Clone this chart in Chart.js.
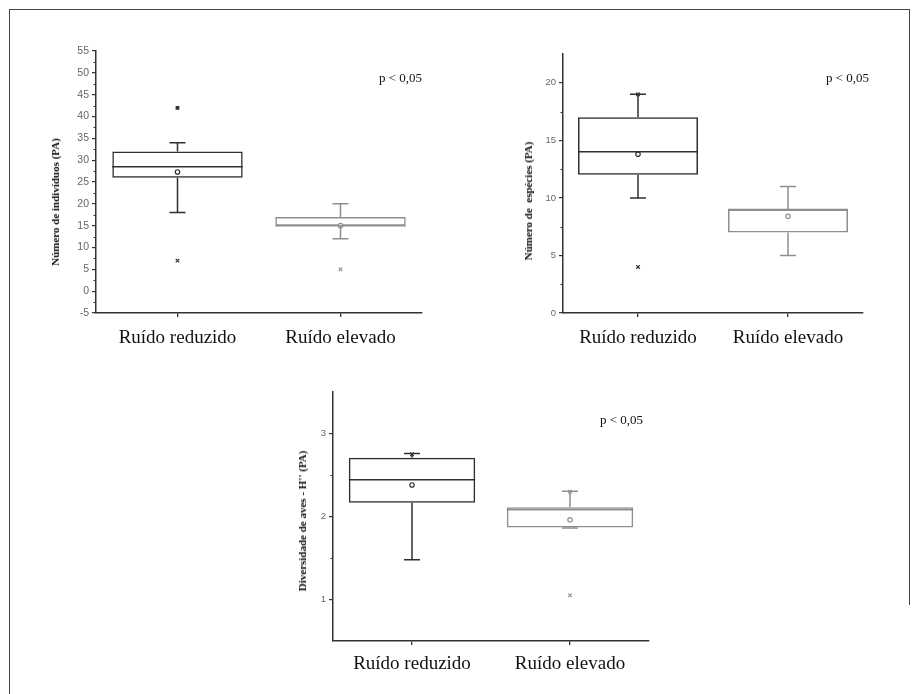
<!DOCTYPE html>
<html>
<head>
<meta charset="utf-8">
<script src="https://cdn.jsdelivr.net/npm/chart.js@4.4.1/dist/chart.umd.min.js"></script>
<style>
  body { margin: 0; background: #fff; }
  #page { position: relative; width: 918px; height: 694px; overflow: hidden; background: #fff; }
  .frame-top { position: absolute; left: 9px; top: 9px; width: 900px; height: 0; border-top: 1px solid #444; }
  .frame-left { position: absolute; left: 9px; top: 9px; width: 0; height: 690px; border-left: 1px solid #444; }
  .frame-right { position: absolute; left: 909px; top: 9px; width: 0; height: 596px; border-left: 1px solid #444; }
  canvas { position: absolute; }
  .ytitle { position: absolute; font-family: "Liberation Serif", serif; font-weight: bold; font-size: 11px; color: #111;
            white-space: nowrap; transform: translate(-50%, -50%) rotate(-90deg); }
  .pval { position: absolute; font-family: "Liberation Serif", serif; font-size: 13px; color: #111; white-space: nowrap; }
</style>
</head>
<body>
<div id="page">
  <div class="frame-top"></div>
  <div class="frame-left"></div>
  <div class="frame-right"></div>

  <canvas id="chart-individuos" width="387" height="322" style="left:45px; top:41px;"></canvas>
  <canvas id="chart-especies" width="355" height="319" style="left:518px; top:44px;"></canvas>
  <canvas id="chart-diversidade" width="367" height="309" style="left:292px; top:382px;"></canvas>

  <div class="ytitle" style="left:55px; top:202px;">Número de indivíduos (PA)</div>
  <div class="ytitle" style="left:528px; top:201px;">Número de&nbsp; espécies (PA)</div>
  <div class="ytitle" style="left:302px; top:521px;">Diversidade de aves - H'' (PA)</div>

  <div class="pval" style="left:379px; top:70px;">p &lt; 0,05</div>
  <div class="pval" style="left:826px; top:70px;">p &lt; 0,05</div>
  <div class="pval" style="left:600px; top:412px;">p &lt; 0,05</div>
</div>

<script>
const categories = ['Ruído reduzido', 'Ruído elevado'];
const boxColors = ['#2f2f2f', '#8f8f8f'];

// Número de indivíduos
const indQ1 = [26, 15];
const indQ3 = [32, 17];
const indMedian = [28.5, 15];
const indMean = [27.3, 15];
const indMin = [18, 12];
const indMax = [34, 20];
const indOutliers = [[42, 7], [5]];
const indTicks = [-5, 0, 5, 10, 15, 20, 25, 30, 35, 40, 45, 50, 55];

// Número de espécies
const espQ1 = [12, 7];
const espQ3 = [17, 9];
const espMedian = [14, 9];
const espMean = [13.8, 8.4];
const espMin = [10, 5];
const espMax = [19, 11];
const espOutliers = [[19, 4], []];
const espTicks = [0, 5, 10, 15, 20];

// Diversidade de aves - H''
const divQ1 = [2.165, 1.867];
const divQ3 = [2.707, 2.112];
const divMedian = [2.442, 2.08];
const divMean = [2.38, 1.96];
const divMin = [1.478, 1.86];
const divMax = [2.76, 2.305];
const divOutliers = [[2.75], [2.3, 1.05]];
const divTicks = [1, 2, 3];

// whiskers, caps, median lines and minor ticks
const boxWhiskers = {
    id: 'boxWhiskers',
    afterDatasetsDraw: function(chart) {
        const s = chart.$box;
        if (!s) return;
        const ctx = chart.ctx;
        const x = chart.scales.x;
        const y = chart.scales.y;
        const bars = chart.getDatasetMeta(2).data;
        ctx.save();
        ctx.lineWidth = 1.5;
        categories.forEach((c, i) => {
            const cx = x.getPixelForValue(i);
            const half = bars[i] ? bars[i].width / 2 : 50;
            const cap = 8;
            ctx.strokeStyle = boxColors[i];
            ctx.beginPath();
            // median
            ctx.moveTo(cx - half, y.getPixelForValue(s.median[i]));
            ctx.lineTo(cx + half, y.getPixelForValue(s.median[i]));
            // upper whisker
            ctx.moveTo(cx, y.getPixelForValue(s.q3[i]));
            ctx.lineTo(cx, y.getPixelForValue(s.max[i]));
            ctx.moveTo(cx - cap, y.getPixelForValue(s.max[i]));
            ctx.lineTo(cx + cap, y.getPixelForValue(s.max[i]));
            // lower whisker
            ctx.moveTo(cx, y.getPixelForValue(s.q1[i]));
            ctx.lineTo(cx, y.getPixelForValue(s.min[i]));
            ctx.moveTo(cx - cap, y.getPixelForValue(s.min[i]));
            ctx.lineTo(cx + cap, y.getPixelForValue(s.min[i]));
            ctx.stroke();
        });
        // minor ticks on y axis
        ctx.strokeStyle = '#333';
        ctx.lineWidth = 1.2;
        ctx.beginPath();
        for (let k = 0; k < y.ticks.length - 1; k++) {
            const mid = (y.ticks[k].value + y.ticks[k + 1].value) / 2;
            const py = Math.round(y.getPixelForValue(mid)) + 0.5;
            ctx.moveTo(chart.chartArea.left - 2.5, py);
            ctx.lineTo(chart.chartArea.left, py);
        }
        ctx.stroke();
        ctx.restore();
    }
};

function makeBoxChart(id, s) {
    const canvas = document.getElementById(id);
    const outlierPoints = [];
    s.outliers.forEach((vals, i) => vals.forEach(v => outlierPoints.push({ x: categories[i], y: v })));

    const chart = new Chart(canvas, {
        type: 'bar',
        data: {
            labels: categories,
            datasets: [
                {
                    type: 'line',
                    label: 'Média',
                    data: s.mean,
                    showLine: false,
                    pointStyle: 'circle',
                    pointRadius: 2.2,
                    pointBorderWidth: 1.2,
                    pointBorderColor: boxColors,
                    pointBackgroundColor: '#fff',
                    order: 0
                },
                {
                    type: 'scatter',
                    label: 'Extremos',
                    data: outlierPoints,
                    // points above the upper whisker are drawn as small squares
                    pointStyle: (c) => (c.raw && c.raw.y > s.max[categories.indexOf(c.raw.x)]) ? 'rect' : 'crossRot',
                    pointRadius: (c) => (c.raw && c.raw.y > s.max[categories.indexOf(c.raw.x)]) ? 1.8 : 2.5,
                    pointBorderWidth: 1.2,
                    pointBorderColor: (c) => boxColors[c.raw ? categories.indexOf(c.raw.x) : 0],
                    pointBackgroundColor: (c) => boxColors[c.raw ? categories.indexOf(c.raw.x) : 0],
                    order: 1
                },
                {
                    label: 'Caixa',
                    data: s.q1.map((q, i) => [q, s.q3[i]]),
                    backgroundColor: 'rgba(0,0,0,0)',
                    borderColor: boxColors,
                    borderWidth: 1.5,
                    borderSkipped: false,
                    categoryPercentage: 0.8,
                    barPercentage: 1,
                    order: 2
                }
            ]
        },
        options: {
            responsive: false,
            animation: false,
            layout: { padding: { top: 10, right: 10, left: 0, bottom: 0 } },
            plugins: {
                legend: { display: false },
                tooltip: { enabled: false }
            },
            scales: {
                x: {
                    type: 'category',
                    offset: true,
                    grid: { display: true, drawOnChartArea: false, drawTicks: true, tickLength: 4, offset: false, color: '#333', lineWidth: 1.3 },
                    border: { display: true, color: '#333', width: 1.5 },
                    ticks: { font: { family: 'Liberation Serif', size: 19 }, color: '#111', padding: s.xPad, maxRotation: 0, autoSkip: false },
                    afterFit: (sc) => { sc.height = 50; }
                },
                y: {
                    type: 'linear',
                    min: s.yMin,
                    max: s.yMax,
                    afterBuildTicks: (sc) => { sc.ticks = s.ticks.map(v => ({ value: v })); },
                    grid: { display: true, drawOnChartArea: false, drawTicks: true, tickLength: 4, color: '#333', lineWidth: 1.2 },
                    border: { display: true, color: '#333', width: 1.5 },
                    ticks: { font: { family: 'Liberation Sans', size: s.tickSize }, color: '#666', padding: 3 },
                    afterFit: (sc) => { sc.width = s.yWidth; }
                }
            }
        },
        plugins: [boxWhiskers]
    });
    chart.$box = s;
    chart.draw();
    return chart;
}

makeBoxChart('chart-individuos', {
    q1: indQ1, q3: indQ3, median: indMedian, mean: indMean, min: indMin, max: indMax,
    outliers: indOutliers, ticks: indTicks, yMin: -5, yMax: 55, yWidth: 51, xPad: 10, tickSize: 10.5
});
makeBoxChart('chart-especies', {
    q1: espQ1, q3: espQ3, median: espMedian, mean: espMean, min: espMin, max: espMax,
    outliers: espOutliers, ticks: espTicks, yMin: 0, yMax: 22.5, yWidth: 45, xPad: 10, tickSize: 9.5
});
makeBoxChart('chart-diversidade', {
    q1: divQ1, q3: divQ3, median: divMedian, mean: divMean, min: divMin, max: divMax,
    outliers: divOutliers, ticks: divTicks, yMin: 0.5, yMax: 3.5, yWidth: 41, xPad: 8, tickSize: 9.5
});
</script>
</body>
</html>
